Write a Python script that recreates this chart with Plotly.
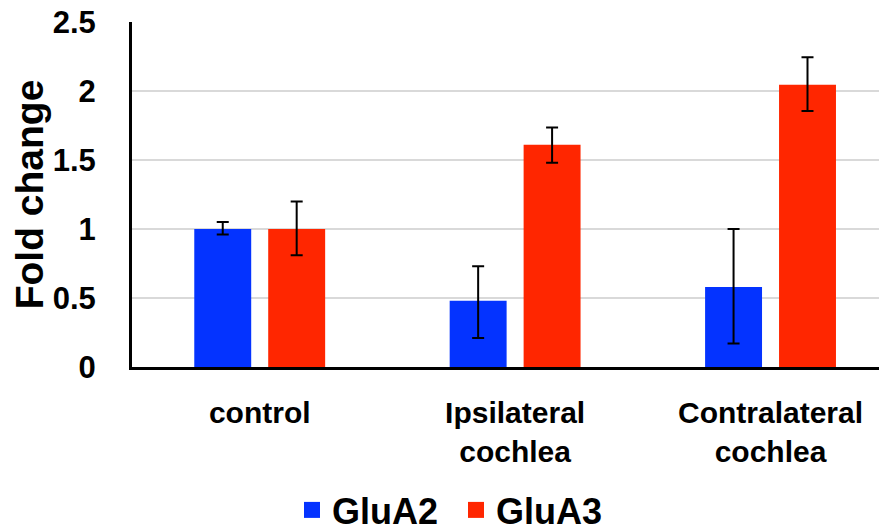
import plotly.graph_objects as go

categories = ["control", "Ipsilateral<br>cochlea", "Contralateral<br>cochlea"]
glua2 = [1.0, 0.48, 0.58]
glua2_err_plus = [0.05, 0.25, 0.42]
glua2_err_minus = [0.04, 0.27, 0.41]
glua3 = [1.0, 1.61, 2.045]
glua3_err_plus = [0.20, 0.125, 0.20]
glua3_err_minus = [0.19, 0.13, 0.19]
yticks = [0, 0.5, 1, 1.5, 2, 2.5]
ytick_labels = ["0", "0.5", "1", "1.5", "2", "2.5"]

BLUE = "#0433FF"
RED = "#FF2600"
FONT = "Liberation Sans, Arial, sans-serif"

# page has an 8px body margin; figure is sized to fit the window
W, H = 879, 521
OFF = 8

fig = go.Figure()
for name, vals, ep, em, col in [
    ("GluA2", glua2, glua2_err_plus, glua2_err_minus, BLUE),
    ("GluA3", glua3, glua3_err_plus, glua3_err_minus, RED),
]:
    fig.add_trace(go.Bar(
        x=categories, y=vals, name=name, marker=dict(color=col, line=dict(width=0)),
        error_y=dict(type="data", array=ep, arrayminus=em, symmetric=False,
                     color="black", thickness=2, width=6),
        showlegend=False,
    ))
# legend entries with larger square swatches
for name, col in [("GluA2", BLUE), ("GluA3", RED)]:
    fig.add_trace(go.Scatter(
        x=[None], y=[None], mode="markers", name=name,
        marker=dict(symbol="square", size=17, color=col), showlegend=True,
    ))

fig.update_layout(
    template="none",
    width=W, height=H,
    margin=dict(l=132 - OFF, r=0, t=22 - OFF, b=H - (367 - OFF), autoexpand=False),
    paper_bgcolor="white", plot_bgcolor="white",
    barmode="group", bargap=0.421, bargroupgap=0.23,
    font=dict(family=FONT, color="black", size=30, weight="bold"),
    showlegend=True,
    legend=dict(orientation="h", xref="container", yref="container",
                x=(292 - OFF) / W, xanchor="left",
                y=(H - (510 - OFF)) / H, yanchor="middle",
                font=dict(size=36, family=FONT, weight="bold"),
                entrywidth=119, entrywidthmode="pixels",
                itemsizing="trace", bgcolor="rgba(0,0,0,0)", borderwidth=0),
)
fig.update_xaxes(
    automargin=False,
    range=[-0.5, 2.456], showline=True, linecolor="black", linewidth=3,
    showgrid=False, ticks="outside", ticklen=17, tickcolor="rgba(0,0,0,0)",
    tickfont=dict(size=30, family=FONT, weight="bold"), zeroline=False,
    ticklabeloverflow="allow",
)
fig.update_yaxes(
    automargin=False,
    range=[0, 2.5], tickvals=yticks, ticktext=ytick_labels,
    showline=True, linecolor="black", linewidth=3,
    showgrid=True, gridcolor="#D9D9D9", gridwidth=1.5,
    ticks="outside", ticklen=27, tickcolor="rgba(0,0,0,0)",
    tickfont=dict(size=31, family=FONT, weight="bold"), zeroline=False,
    ticklabeloverflow="allow",
    title=dict(text="Fold change", font=dict(size=39, family=FONT, weight="bold"), standoff=0),
)

fig.write_html("out.html")
